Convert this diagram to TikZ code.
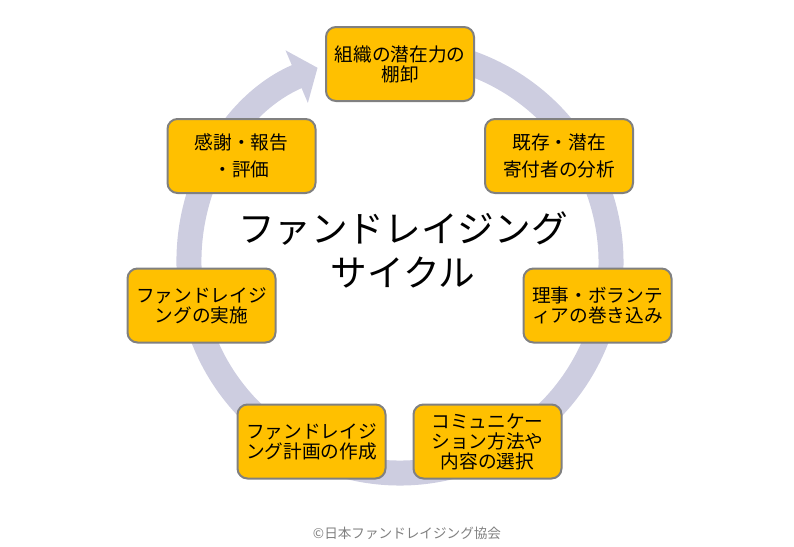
\documentclass[tikz,border=0pt]{standalone}
\usepackage{fontspec}
\setmainfont{Noto Sans CJK JP}
\usepackage{tikz}
\usetikzlibrary{arrows.meta,positioning}

\begin{document}
\begin{tikzpicture}[x=0.75pt,y=0.75pt]
\definecolor{ring}{RGB}{205,205,224}
\definecolor{box fill}{RGB}{255,192,0}
\definecolor{box edge}{RGB}{128,128,128}
\tikzset{
     stage/.style={draw=box edge, fill=box fill, line width=1.5pt, rounded corners=7.5pt,
                   minimum width=111pt, minimum height=55.5pt, inner sep=0pt,
                   align=center, font=\fontsize{14}{15}\selectfont},
     cycle arrow/.style={draw=ring, line width=18.75pt, -{Triangle[length=17pt,width=42pt]}}}

\useasboundingbox (0,0) rectangle (794,-547);

% The ring
\draw [cycle arrow] (400,-262) ++(100:211) arc[start angle=100, end angle=-247, radius=211];

% The title
\node (title) at (403,-250) [align=center, font=\fontsize{27.5}{33}\selectfont] {ファンドレイジング\\サイクル};

% The stages
\node (inventory) [stage] at (400,-64) {組織の潜在力の\\棚卸};
\node (donors) [stage] at (559,-156) {既存・潜在\\[5pt]寄付者の分析};
\node (board) [stage] at (597.5,-305.5) {理事・ボランテ\\ィアの巻き込み};
\node (message) [stage] at (487.5,-441.5) {コミュニケー\\ション方法や\\内容の選択};
\node (plan) [stage] at (311.5,-441.5) {ファンドレイジ\\ング計画の作成};
\node (action) [stage] at (201.5,-305.5) {ファンドレイジ\\ングの実施};
\node (thanks) [stage] at (241.5,-156) {感謝・報告\\[5pt]・評価};

% The credit
\node (credit) at (407,-533) [text=box edge, font=\fontsize{10.2}{12}\selectfont] {©日本ファンドレイジング協会};
\end{tikzpicture}
\end{document}
